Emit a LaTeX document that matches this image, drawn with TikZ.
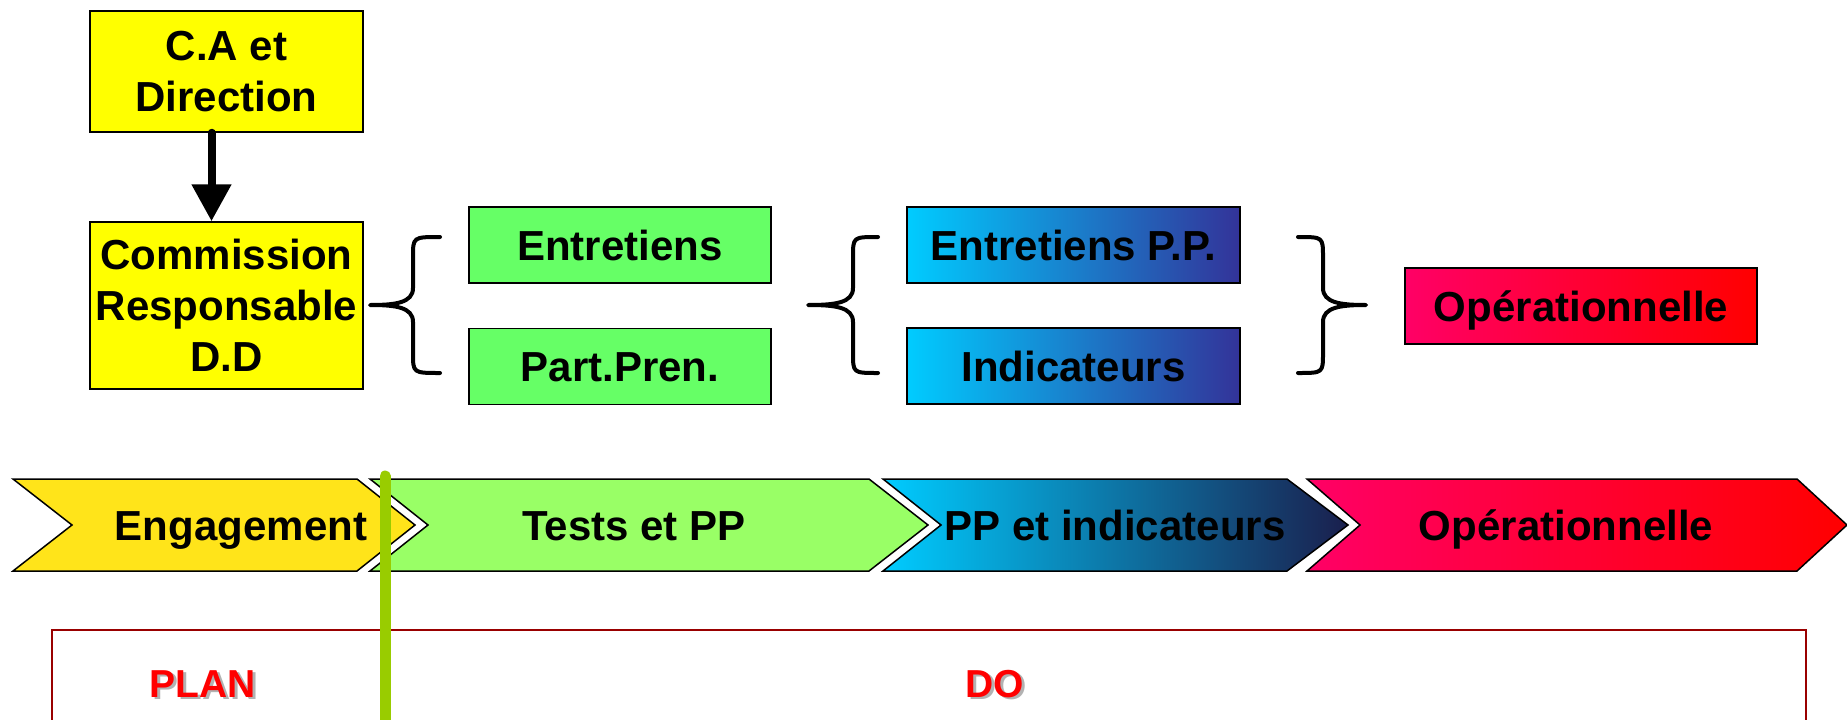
\documentclass[tikz,border=0pt]{standalone}
\usepackage{fontspec}
\setmainfont{Liberation Sans}
\usetikzlibrary{arrows.meta}

\definecolor{caYellow}{HTML}{FFFF00}
\definecolor{boxGreen}{HTML}{66FF66}
\definecolor{boxCyan}{HTML}{00CCFF}
\definecolor{boxNavy}{HTML}{333399}
\definecolor{boxPink}{HTML}{FF0066}
\definecolor{boxRed}{HTML}{FF0000}
\definecolor{chevYellow}{HTML}{FFE41A}
\definecolor{chevGreen}{HTML}{99FF66}
\definecolor{chevNavy}{HTML}{1A1F4D}
\definecolor{lineGreen}{HTML}{99CC00}
\definecolor{frameRed}{HTML}{990000}

\begin{document}
\begin{tikzpicture}
        [x=1pt, y=-1pt,
         every node/.style={font=\fontsize{42}{51}\selectfont\bfseries, align=center, inner sep=0},
         frame/.style={draw, line width=1.5pt},
         box/.style={frame, minimum width=#1, minimum height=76pt, text height=30pt, text depth=0pt},
         tag/.style={text height=30pt, text depth=0pt},
         chev/.style={draw, line width=1.5pt},
         brace/.style={line width=4pt, line cap=round, line join=round},
         phase/.style={font=\fontsize{39}{45}\selectfont\bfseries, text=boxRed, text height=28pt, text depth=0pt},
         phaseshadow/.style={phase, text=black!30}]

        \useasboundingbox (0,0) rectangle (1847,720);

        \node[frame, fill=caYellow, minimum width=273pt, minimum height=121pt] (v1) at (226.5,71.5) {C.A et\\Direction};
        \node[frame, fill=caYellow, minimum width=273pt, minimum height=167pt] (v2) at (226.5,305.5) {Commission\\Responsable\\D.D};
        \node[box=302pt, fill=boxGreen] (v3) at (620,245) {Entretiens};
        \node[box=302pt, fill=boxGreen] (v4) at (620,366.5) {Part.Pren.};
        \node[box=333pt, left color=boxCyan, right color=boxNavy] (v5) at (1073.5,245) {Entretiens P.P.};
        \node[box=333pt, left color=boxCyan, right color=boxNavy] (v6) at (1073.5,366) {Indicateurs};
        \node[box=352pt, left color=boxPink, right color=boxRed] (v7) at (1581,306) {Opérationnelle};

        \draw[line width=8pt, line cap=round, -{Triangle[width=38pt,length=37pt]}] ([xshift=-15pt]v1.south) -- ([xshift=-15pt]v2.north);

        \draw[brace] (440,237) .. controls (413,237) .. (413,257) -- (413,288) .. controls (413,303) and (395,305) .. (370,305) .. controls (395,305) and (413,307) .. (413,322) -- (413,353) .. controls (413,373) .. (440,373);
        \draw[brace] (878,237) .. controls (853,237) .. (853,257) -- (853,288) .. controls (853,303) and (835,305) .. (808,305) .. controls (835,305) and (853,307) .. (853,322) -- (853,353) .. controls (853,373) .. (878,373);
        \draw[brace] (1298,237) .. controls (1323,237) .. (1323,257) -- (1323,288) .. controls (1323,303) and (1341,305) .. (1366,305) .. controls (1341,305) and (1323,307) .. (1323,322) -- (1323,353) .. controls (1323,373) .. (1298,373);

        \draw[chev, fill=chevYellow] (13,479) -- (357,479) -- (415,525) -- (357,571) -- (13,571) -- (72,525) -- cycle;
        \draw[chev, fill=chevGreen] (370,479) -- (869,479) -- (928,525) -- (869,571) -- (370,571) -- (428,525) -- cycle;
        \draw[chev, left color=boxCyan, right color=chevNavy] (883,479) -- (1287,479) -- (1348,525) -- (1287,571) -- (883,571) -- (941,525) -- cycle;
        \draw[chev, left color=boxPink, right color=boxRed] (1307,479) -- (1797,479) -- (1847,525) -- (1797,571) -- (1307,571) -- (1360,525) -- cycle;

        \node[tag] (c1) at (241,525) {Engagement};
        \node[tag] (c2) at (634,525) {Tests et PP};
        \node[tag] (c3) at (1115,525) {PP et indicateurs};
        \node[tag] (c4) at (1566,525) {Opérationnelle};

        \draw[frameRed, line width=2.5pt] (52,630) rectangle (1806,740);

        \node[phaseshadow] (s1) at (205.5,685.5) {PLAN};
        \node[phase] (p1) at (203,683) {PLAN};
        \node[phaseshadow] (s2) at (997.5,685.5) {DO};
        \node[phase] (p2) at (995,683) {DO};

        \coordinate (g1) at (385,476);
        \coordinate (g2) at (385,730);
        \draw[lineGreen, line width=11pt, line cap=round] (g1) -- (g2);

      \end{tikzpicture}
\end{document}
